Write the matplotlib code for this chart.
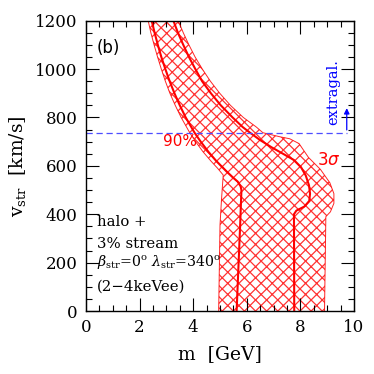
import matplotlib
matplotlib.use("Agg")
import matplotlib.pyplot as plt
import numpy as np

# 3-sigma region boundaries (m [GeV], v_str [km/s])
sig3_left_m = [2.32, 2.42, 2.54, 2.67, 2.81, 2.96, 3.13, 3.33, 3.55, 3.87, 4.09, 4.36, 4.66, 4.91, 5.12, 5.08, 5.05, 5.00, 4.95]
sig3_left_v = [1200, 1150, 1100, 1050, 1000, 950, 900, 850, 800, 737, 700, 659, 620, 590, 562, 500, 450, 355, 0]
sig3_right_m = [3.44, 3.63, 3.84, 4.07, 4.34, 4.64, 4.99, 5.39, 5.87, 6.36, 6.60, 7.24, 7.60, 7.95, 8.30, 8.75, 9.10, 9.25, 9.25, 9.12, 8.95, 8.90]
sig3_right_v = [1200, 1150, 1100, 1050, 1000, 950, 900, 850, 800, 760, 737, 720, 712, 692, 635, 585, 530, 485, 445, 410, 390, 0]

# 90% region boundaries
c90_left_m = [2.45, 2.56, 2.68, 2.81, 2.96, 3.12, 3.30, 3.50, 3.72, 4.05, 4.28, 4.56, 4.86, 5.25, 5.50, 5.66, 5.77, 5.80, 5.75, 5.62]
c90_left_v = [1200, 1150, 1100, 1050, 1000, 950, 900, 850, 800, 737, 700, 659, 620, 576, 550, 535, 515, 500, 350, 0]
c90_right_m = [3.26, 3.43, 3.63, 3.84, 4.08, 4.33, 4.66, 5.03, 5.47, 5.85, 6.12, 6.49, 6.92, 7.35, 7.76, 8.02, 8.20, 8.32, 8.36, 8.33, 8.15, 7.85, 7.76, 7.77]
c90_right_v = [1200, 1150, 1100, 1050, 1000, 950, 900, 850, 800, 760, 737, 707, 677, 650, 624, 595, 560, 520, 485, 455, 432, 415, 400, 0]

v_extragal = 737

fig = plt.figure(figsize=(3.74, 3.74), dpi=100)
ax = fig.add_axes([0.23, 0.1684, 0.7165, 0.7763])
plt.rcParams['hatch.linewidth'] = 0.9

red = '#ff0000'
poly_m = sig3_left_m + sig3_right_m[::-1]
poly_v = sig3_left_v + sig3_right_v[::-1]
ax.fill(poly_m, poly_v, facecolor='none', edgecolor=(1, 0, 0, 0.8), hatch='xxx', linewidth=0)

ax.plot(sig3_left_m, sig3_left_v, color=red, lw=0.7, alpha=0.85)
ax.plot(sig3_right_m, sig3_right_v, color=red, lw=0.7, alpha=0.85)
ax.plot(c90_left_m, c90_left_v, color=red, lw=1.5)
ax.plot(c90_right_m, c90_right_v, color=red, lw=1.5)

ax.plot([0, 9.73], [v_extragal, v_extragal], color=(0.3, 0.3, 1.0), lw=0.9, ls=(0, (5, 3)))
ax.annotate('', xy=(9.73, 850), xytext=(9.73, v_extragal),
            arrowprops=dict(arrowstyle='-|>', color='blue', lw=0.9, mutation_scale=8))
ax.text(9.22, 769, 'extragal.', rotation=90, color='blue', ha='center', va='bottom',
        family='DejaVu Serif', fontsize=10.5)

serif = 'DejaVu Serif'
ax.text(0.4, 1087, '(b)', fontsize=12, family='DejaVu Sans', va='center')
ax.text(3.5, 699, '90%', fontsize=11, family='DejaVu Sans', color=red, ha='center', va='center')
ax.text(9.05, 624, r'$3\sigma$', fontsize=12, color=red, ha='center', va='center')

fs = 10.7
ax.text(0.42, 369, 'halo +', fontsize=fs, family=serif, va='center')
ax.text(0.42, 277, '3% stream', fontsize=fs, family=serif, va='center')
ax.text(0.42, 200, r'$\beta_{\rm str}$=0$^{\rm o}$ $\lambda_{\rm str}$=340$^{\rm o}$', fontsize=fs - 0.5, family=serif, va='center',
        math_fontfamily='dejavuserif')
ax.text(0.42, 100, '(2\u22124keVee)', fontsize=fs, family=serif, va='center')

ax.set_xlim(0, 10)
ax.set_ylim(0, 1200)
ax.set_xticks([0, 2, 4, 6, 8, 10])
ax.set_yticks([0, 200, 400, 600, 800, 1000, 1200])
ax.set_xticks(np.arange(0, 10.01, 0.5), minor=True)
ax.set_yticks(np.arange(0, 1200.1, 50), minor=True)
ax.tick_params(which='both', direction='in', top=True, right=True)
ax.tick_params(which='major', length=9.5, width=0.8, labelsize=12, pad=6)
ax.tick_params(which='minor', length=4.5, width=0.8)
for lab in ax.get_xticklabels() + ax.get_yticklabels():
    lab.set_family(serif)
ax.set_xlabel('m  [GeV]', family=serif, fontsize=13.5, labelpad=6)
ax.set_ylabel(r'v$_{\rm str}$  [km/s]', family=serif, fontsize=13.5, labelpad=5,
              math_fontfamily='dejavuserif')
for s in ax.spines.values():
    s.set_linewidth(1.0)

fig.savefig('out.png', dpi=100)
